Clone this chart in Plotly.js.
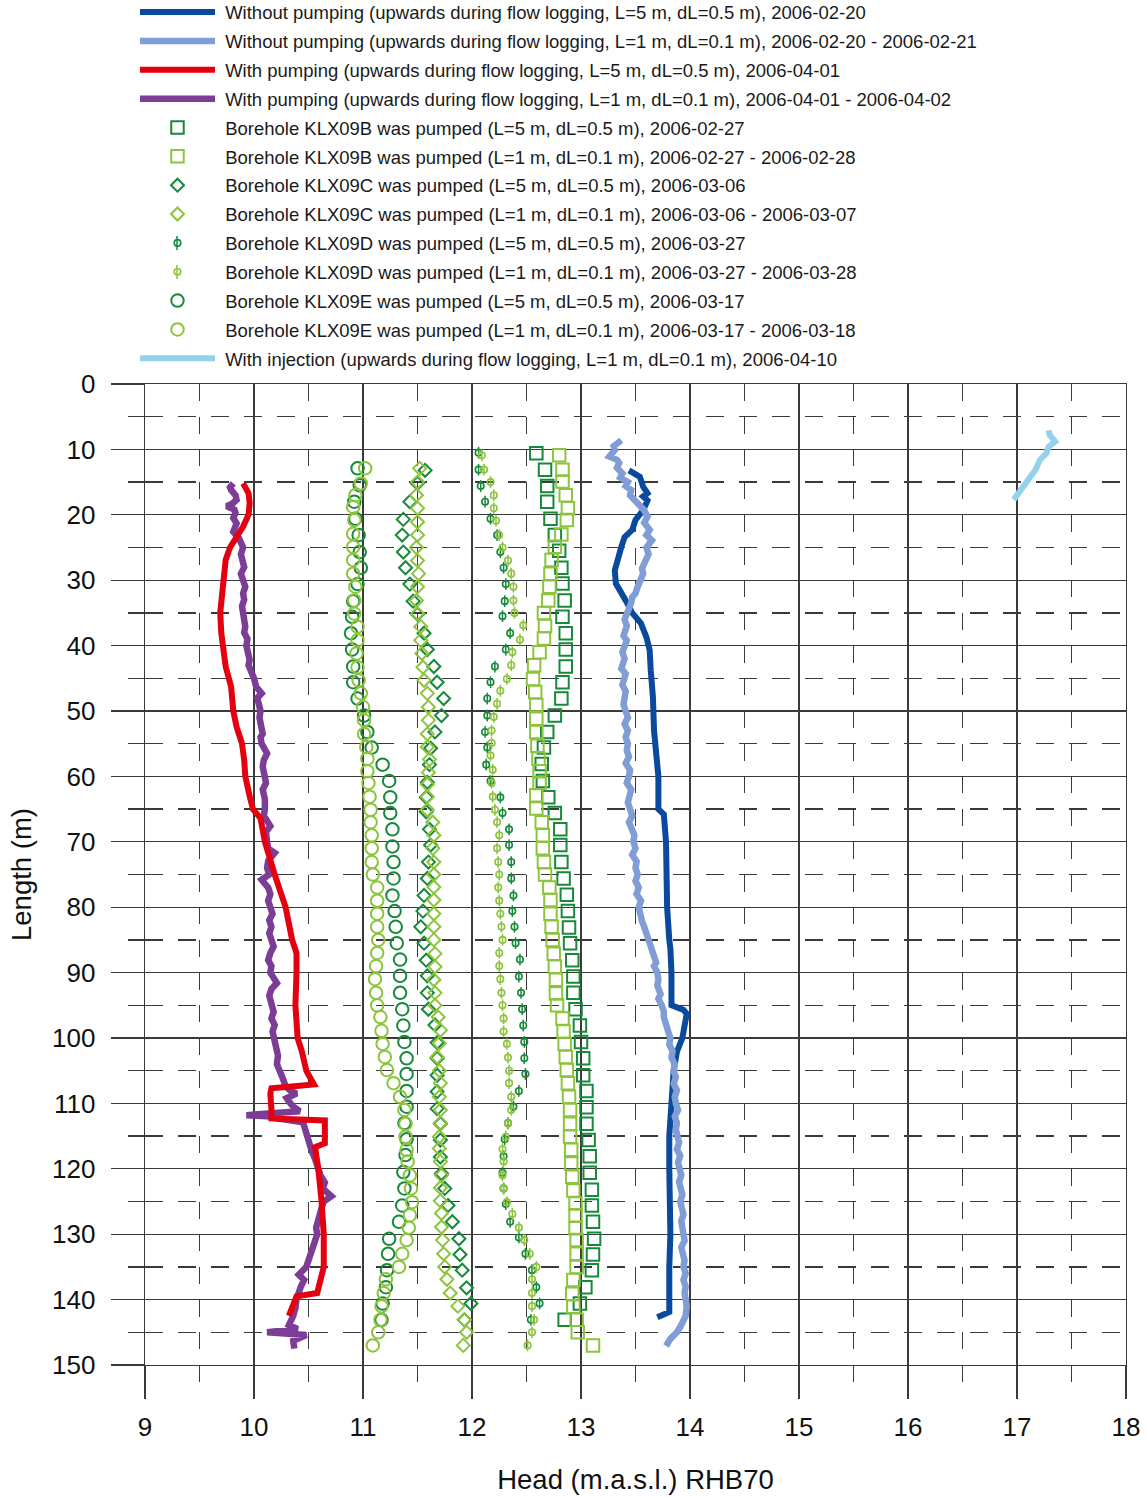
<!DOCTYPE html>
<html>
<head>
<meta charset="utf-8">
<script src="https://cdn.plot.ly/plotly-3.0.1.min.js"></script>
<style>body{margin:0;padding:0;background:#fff;} #chart{width:1147px;height:1497px;}</style>
</head>
<body>
<div id="chart"></div>
<script>
// ---------- Series names ----------
const seriesNames = [
  "Without pumping (upwards during flow logging, L=5 m, dL=0.5 m), 2006-02-20",
  "Without pumping (upwards during flow logging, L=1 m, dL=0.1 m), 2006-02-20 - 2006-02-21",
  "With pumping (upwards during flow logging, L=5 m, dL=0.5 m), 2006-04-01",
  "With pumping (upwards during flow logging, L=1 m, dL=0.1 m), 2006-04-01 - 2006-04-02",
  "Borehole KLX09B was pumped (L=5 m, dL=0.5 m), 2006-02-27",
  "Borehole KLX09B was pumped (L=1 m, dL=0.1 m), 2006-02-27 - 2006-02-28",
  "Borehole KLX09C was pumped (L=5 m, dL=0.5 m), 2006-03-06",
  "Borehole KLX09C was pumped (L=1 m, dL=0.1 m), 2006-03-06 - 2006-03-07",
  "Borehole KLX09D was pumped (L=5 m, dL=0.5 m), 2006-03-27",
  "Borehole KLX09D was pumped (L=1 m, dL=0.1 m), 2006-03-27 - 2006-03-28",
  "Borehole KLX09E was pumped (L=5 m, dL=0.5 m), 2006-03-17",
  "Borehole KLX09E was pumped (L=1 m, dL=0.1 m), 2006-03-17 - 2006-03-18",
  "With injection (upwards during flow logging, L=1 m, dL=0.1 m), 2006-04-10"
];

// ---------- Without pumping, L=5 m ----------
const noPump5Len  = [13.2,14.2,15.7,16.7,17.2,17.8,19.3,20.8,22.3,23.4,24.9,26.4,28.5,30.5,31.5,33.1,35.0,36.6,38.7,40.7,43.8,47.9,53.0,56.0,60.0,65.0,65.8,70.0,75.0,80.0,85.0,86.3,90.0,95.0,95.7,96.3,100.0,102.1,105.0,107.4,110.0,115.0,120.0,125.0,130.0,135.0,140.0,141.9,142.7];
const noPump5Head = [13.44,13.54,13.57,13.61,13.57,13.61,13.57,13.50,13.47,13.40,13.37,13.34,13.31,13.32,13.36,13.41,13.47,13.55,13.60,13.63,13.64,13.66,13.67,13.69,13.71,13.71,13.76,13.78,13.78,13.79,13.81,13.82,13.83,13.83,13.94,13.97,13.93,13.88,13.85,13.84,13.82,13.81,13.81,13.82,13.82,13.81,13.81,13.81,13.70];

// ---------- Without pumping, L=1 m ----------
const noPump1Len  = [8.6,9.0,9.5,10.1,10.6,11.1,11.6,12.1,12.8,13.7,14.3,15.0,15.6,16.2,17.0,17.8,18.5,19.3,20.3,21.2,22.3,23.1,23.9,24.5,25.0,26.0,27.4,28.2,29.0,30.0,31.0,32.0,32.6,33.5,34.2,35.0,36.0,37.0,37.7,38.5,39.2,40.0,41.0,42.0,42.8,43.5,44.3,45.0,46.0,47.0,47.9,49.0,50.0,51.0,52.0,53.0,54.0,55.0,56.0,57.0,58.0,59.0,60.0,61.0,62.0,63.0,64.0,65.0,66.0,67.0,68.0,69.0,70.0,71.0,72.0,73.0,74.0,75.0,76.0,77.0,78.0,79.0,80.0,81.0,82.2,83.0,84.0,85.0,86.0,87.0,87.5,88.5,89.0,90.0,91.0,92.0,93.3,94.0,95.0,96.0,96.8,98.0,99.0,100.0,101.0,102.0,103.0,104.0,105.0,106.0,107.0,108.0,109.0,110.0,111.0,112.0,113.0,114.0,115.0,116.0,117.0,118.0,119.0,120.0,121.0,122.0,123.0,124.0,125.0,126.0,127.0,128.0,129.0,130.0,131.0,132.0,133.0,134.0,135.0,136.0,137.0,138.0,139.0,140.0,141.0,142.5,143.3,144.2,145.0,146.0,147.1];
const noPump1Head = [13.37,13.33,13.30,13.31,13.29,13.26,13.33,13.35,13.33,13.38,13.36,13.43,13.41,13.46,13.45,13.50,13.53,13.58,13.61,13.58,13.63,13.60,13.65,13.62,13.60,13.62,13.58,13.56,13.57,13.54,13.52,13.50,13.47,13.46,13.44,13.43,13.40,13.42,13.41,13.39,13.42,13.40,13.38,13.40,13.38,13.37,13.41,13.40,13.38,13.41,13.40,13.39,13.41,13.43,13.40,13.43,13.41,13.43,13.42,13.44,13.41,13.45,13.44,13.42,13.46,13.44,13.43,13.45,13.47,13.44,13.46,13.49,13.48,13.50,13.47,13.51,13.50,13.52,13.50,13.53,13.51,13.55,13.53,13.54,13.56,13.58,13.60,13.62,13.64,13.66,13.68,13.69,13.67,13.70,13.71,13.70,13.73,13.71,13.74,13.76,13.76,13.79,13.80,13.82,13.81,13.84,13.83,13.86,13.85,13.87,13.85,13.88,13.86,13.87,13.89,13.86,13.88,13.87,13.88,13.90,13.88,13.91,13.89,13.90,13.92,13.90,13.91,13.93,13.91,13.92,13.94,13.92,13.93,13.93,13.95,13.92,13.94,13.95,13.94,13.96,13.94,13.96,13.95,13.96,13.97,13.96,13.94,13.91,13.88,13.82,13.78];

// ---------- With pumping, L=5 m ----------
const pump5Len  = [15.2,16.7,18.2,20.0,21.8,23.3,25.0,26.9,30.0,33.0,35.0,38.1,40.0,43.2,46.3,50.0,52.4,55.0,57.5,60.0,63.0,65.0,66.4,70.0,75.0,80.0,85.0,87.0,90.0,95.0,100.0,102.1,105.0,107.1,107.7,108.5,110.9,112.3,112.6,116.1,116.7,120.0,125.0,130.0,135.0,136.6,139.0,139.5,141.3,142.5];
const pump5Head = [9.90,9.95,9.96,9.95,9.90,9.84,9.78,9.74,9.72,9.69,9.69,9.70,9.72,9.74,9.79,9.81,9.84,9.89,9.91,9.92,9.96,9.99,10.06,10.10,10.19,10.29,10.35,10.39,10.39,10.38,10.40,10.44,10.48,10.55,10.16,10.15,10.16,10.16,10.65,10.65,10.56,10.59,10.62,10.64,10.64,10.62,10.58,10.39,10.35,10.32];

// ---------- With pumping, L=1 m ----------
const pump1Len  = [15.2,15.8,16.2,17.0,17.7,18.3,18.7,19.2,19.7,20.5,21.3,22.0,22.6,23.5,24.3,25.0,26.0,26.9,28.0,29.0,30.0,31.0,32.0,33.0,34.0,35.0,36.0,37.1,38.0,39.0,40.0,41.0,42.2,43.0,44.2,45.0,46.3,47.3,48.0,49.0,50.0,51.0,52.4,53.5,54.0,55.0,56.5,57.5,58.5,60.0,61.0,62.0,63.5,65.0,66.0,67.6,68.5,70.0,71.0,71.7,72.9,74.0,75.0,75.8,77.0,78.0,79.0,80.0,81.0,82.0,83.0,84.0,85.0,86.0,87.0,88.1,89.0,90.0,91.6,92.5,93.5,95.0,96.0,97.0,98.0,99.0,100.0,101.0,102.7,104.0,105.0,106.0,107.4,108.0,108.5,109.2,109.7,110.5,111.2,111.8,112.0,112.3,112.9,114.0,115.0,116.0,117.3,118.5,120.0,121.0,122.1,123.0,124.2,125.0,126.0,127.0,127.9,129.0,130.0,131.0,132.0,133.0,134.0,135.0,136.2,137.0,138.0,139.0,140.0,141.3,142.5,143.9,144.5,145.0,145.4,146.3,147.5];
const pump1Head = [9.81,9.78,9.79,9.83,9.84,9.80,9.75,9.82,9.83,9.81,9.84,9.82,9.81,9.86,9.89,9.90,9.88,9.89,9.91,9.88,9.90,9.92,9.90,9.91,9.89,9.90,9.92,9.92,9.91,9.94,9.93,9.95,9.96,9.95,9.99,10.00,10.02,10.07,10.03,10.05,10.06,10.05,10.06,10.08,10.06,10.07,10.12,10.09,10.08,10.09,10.11,10.08,10.10,10.10,10.09,10.15,10.11,10.12,10.13,10.19,10.13,10.12,10.14,10.07,10.13,10.15,10.13,10.15,10.17,10.14,10.16,10.14,10.16,10.18,10.15,10.13,10.16,10.15,10.21,10.16,10.14,10.16,10.18,10.16,10.19,10.17,10.18,10.20,10.22,10.21,10.24,10.26,10.29,10.33,10.39,10.30,10.32,10.36,10.42,9.93,10.15,10.21,10.45,10.47,10.48,10.50,10.53,10.56,10.59,10.61,10.65,10.63,10.71,10.64,10.62,10.60,10.59,10.57,10.58,10.56,10.55,10.53,10.51,10.48,10.41,10.46,10.43,10.41,10.39,10.38,10.36,10.32,10.40,10.12,10.48,10.36,10.37];

// ---------- KLX09B pumped ----------
const b5Len  = [10.6,13.1,15.6,18.0,20.6,23.1,25.5,28.1,30.5,33.1,35.6,38.1,40.6,43.2,45.6,48.1,50.7,53.2,55.6,58.1,60.7,63.2,65.6,68.1,70.5,73.1,75.6,78.1,80.6,83.1,85.5,88.1,90.6,93.1,95.6,98.1,100.6,103.1,105.7,108.1,110.6,113.1,115.6,118.1,120.6,123.2,125.6,128.1,130.7,133.1,135.5,138.1,140.6,143.1];
const b5Head = [12.59,12.67,12.69,12.69,12.72,12.76,12.80,12.82,12.83,12.85,12.83,12.86,12.86,12.86,12.83,12.82,12.76,12.69,12.66,12.64,12.65,12.70,12.76,12.81,12.81,12.82,12.84,12.87,12.88,12.89,12.90,12.92,12.93,12.93,12.95,12.99,13.00,13.02,13.02,13.05,13.05,13.05,13.07,13.08,13.08,13.10,13.10,13.11,13.12,13.11,13.10,13.04,12.99,12.85];
const b1Len  = [10.9,13.1,14.9,17.0,19.0,20.8,23.0,24.9,26.9,29.0,31.0,33.1,35.0,37.0,38.9,41.0,43.0,45.1,47.1,49.1,51.2,53.2,55.3,57.3,59.2,61.0,62.9,64.9,67.0,69.0,71.0,73.1,75.0,77.0,78.9,81.0,83.0,85.0,87.1,89.1,91.1,93.2,95.0,97.0,99.0,100.9,102.9,104.9,106.9,109.0,111.0,113.1,115.1,117.1,119.2,121.2,123.3,125.3,127.1,129.1,130.9,133.0,135.0,137.0,139.1,141.1,143.1,145.0,147.0];
const b1Head = [12.80,12.83,12.83,12.86,12.88,12.87,12.82,12.76,12.73,12.72,12.71,12.70,12.66,12.67,12.66,12.62,12.57,12.56,12.58,12.59,12.59,12.59,12.60,12.61,12.62,12.62,12.59,12.59,12.64,12.65,12.65,12.66,12.67,12.71,12.72,12.72,12.73,12.74,12.75,12.76,12.77,12.77,12.78,12.83,12.84,12.85,12.86,12.87,12.88,12.89,12.90,12.90,12.90,12.91,12.91,12.92,12.93,12.95,12.95,12.95,12.96,12.96,12.96,12.93,12.92,12.93,12.96,12.97,13.11];

// ---------- KLX09C pumped ----------
const c5Len  = [13.2,15.2,18.0,20.7,23.1,25.7,28.1,30.6,33.2,35.2,38.1,40.6,43.2,45.6,48.1,50.7,53.2,55.7,58.2,60.9,63.2,65.4,68.1,70.5,73.1,75.6,78.2,80.6,83.0,85.5,88.1,90.5,93.1,95.6,98.0,100.7,103.1,105.7,108.2,110.8,113.1,115.6,118.2,120.7,123.0,125.6,128.1,130.7,133.1,135.5,138.2,140.6,143.1];
const c5Head = [11.57,11.50,11.43,11.37,11.36,11.37,11.39,11.43,11.46,11.50,11.56,11.59,11.65,11.68,11.74,11.72,11.66,11.62,11.61,11.59,11.58,11.58,11.61,11.62,11.60,11.59,11.56,11.55,11.53,11.56,11.58,11.59,11.59,11.60,11.66,11.68,11.68,11.68,11.68,11.68,11.71,11.71,11.71,11.72,11.75,11.78,11.82,11.88,11.89,11.91,11.95,11.99,11.93];
const c1Len  = [12.9,15.0,17.0,19.0,21.1,23.1,25.0,27.0,29.0,31.0,33.1,35.1,37.1,39.2,41.2,43.3,45.3,47.3,49.4,51.4,53.5,55.5,57.4,59.4,61.2,63.1,65.1,67.0,69.0,71.0,73.1,75.0,76.9,78.9,81.0,83.0,85.0,87.1,89.1,91.1,93.1,95.0,96.8,98.8,100.8,102.9,105.0,106.9,109.0,111.0,113.0,115.1,116.9,118.9,121.0,122.9,124.9,126.8,128.9,130.9,133.0,135.0,136.9,139.0,141.0,143.1,145.0,147.0];
const c1Head = [11.52,11.50,11.49,11.50,11.50,11.50,11.49,11.50,11.51,11.50,11.49,11.50,11.53,11.53,11.54,11.55,11.56,11.59,11.60,11.60,11.59,11.59,11.61,11.60,11.59,11.59,11.59,11.64,11.65,11.64,11.65,11.65,11.65,11.65,11.65,11.65,11.65,11.66,11.66,11.65,11.66,11.66,11.69,11.71,11.70,11.68,11.70,11.71,11.70,11.71,11.71,11.70,11.70,11.71,11.72,11.71,11.71,11.72,11.72,11.73,11.74,11.75,11.77,11.80,11.87,11.93,11.95,11.92];

// ---------- KLX09D pumped ----------
const d5Len  = [10.5,13.1,15.6,18.0,20.6,23.1,25.7,28.1,30.6,33.2,35.5,38.1,40.6,43.2,45.6,48.1,50.7,53.2,55.6,58.2,60.7,63.2,65.6,68.1,70.5,73.1,75.6,78.2,80.6,83.0,85.5,88.0,90.6,93.1,95.6,98.1,100.6,103.1,105.5,108.1,110.5,113.0,115.5,118.1,120.6,123.0,125.4,128.1,130.5,133.0,135.5,138.1,140.6,143.1];
const d5Head = [12.06,12.06,12.08,12.12,12.17,12.23,12.26,12.29,12.31,12.30,12.28,12.35,12.31,12.21,12.17,12.14,12.14,12.12,12.14,12.13,12.17,12.26,12.28,12.34,12.34,12.36,12.36,12.38,12.37,12.39,12.40,12.44,12.43,12.45,12.46,12.47,12.48,12.48,12.49,12.43,12.38,12.33,12.30,12.29,12.28,12.29,12.31,12.35,12.43,12.49,12.55,12.59,12.62,12.54];
const d1Len  = [10.9,13.1,15.0,17.0,19.0,20.9,23.1,25.0,27.0,29.0,31.0,33.1,35.0,36.9,39.1,41.0,43.0,45.1,46.9,48.9,50.9,53.0,54.9,56.8,59.0,61.0,63.1,65.1,67.0,69.0,71.0,73.1,75.0,77.0,79.0,81.0,83.0,85.0,87.0,89.0,91.0,93.1,95.0,97.0,99.0,100.9,103.0,105.0,106.9,109.0,111.0,113.1,115.1,117.0,118.9,121.0,123.0,125.1,126.9,129.0,130.9,133.0,135.0,136.9,139.0,141.0,143.1,145.0,147.0];
const d1Head = [12.09,12.11,12.17,12.20,12.20,12.22,12.25,12.28,12.33,12.36,12.38,12.38,12.39,12.47,12.44,12.37,12.36,12.32,12.26,12.23,12.20,12.18,12.18,12.17,12.19,12.18,12.19,12.21,12.23,12.25,12.23,12.24,12.25,12.24,12.25,12.26,12.27,12.28,12.25,12.25,12.26,12.27,12.28,12.29,12.29,12.32,12.33,12.34,12.34,12.36,12.36,12.33,12.31,12.28,12.29,12.28,12.29,12.32,12.37,12.43,12.48,12.53,12.59,12.55,12.55,12.55,12.57,12.55,12.51];

// ---------- KLX09E pumped ----------
const e5Len  = [12.9,15.5,18.0,20.6,23.1,25.7,28.1,30.6,33.2,35.6,38.1,40.6,43.2,45.6,48.1,50.7,53.2,55.6,58.2,60.7,63.2,65.6,68.1,70.7,73.1,75.6,78.2,80.6,83.0,85.5,88.0,90.5,93.1,95.6,98.1,100.6,103.1,105.5,108.1,110.5,113.0,115.5,117.9,120.5,123.0,125.6,128.1,130.7,133.0,135.5,138.1,140.6,143.1];
const e5Head = [10.95,10.97,10.92,10.93,10.96,10.97,10.98,10.95,10.91,10.90,10.89,10.90,10.91,10.91,10.95,11.01,11.04,11.08,11.18,11.24,11.25,11.25,11.27,11.27,11.28,11.28,11.27,11.29,11.30,11.31,11.34,11.34,11.34,11.36,11.37,11.38,11.40,11.40,11.40,11.40,11.38,11.40,11.39,11.37,11.38,11.36,11.33,11.24,11.23,11.22,11.21,11.18,11.17];
const e1Len  = [12.9,15.2,17.0,18.8,20.8,22.9,24.9,26.9,29.0,31.0,33.1,35.1,37.1,39.2,41.2,43.3,45.3,47.3,49.4,51.4,53.5,55.5,57.3,59.2,61.0,63.1,65.1,67.0,69.0,71.0,73.1,75.0,77.0,79.0,81.0,83.0,85.0,87.0,89.0,91.0,93.1,95.0,96.8,98.9,100.9,102.9,104.9,106.9,109.0,111.0,113.1,115.1,117.1,118.9,121.0,123.0,125.1,127.1,129.0,130.9,133.0,135.0,136.9,139.0,141.0,143.1,145.0,147.0];
const e1Head = [11.02,10.98,10.93,10.91,10.92,10.91,10.91,10.91,10.91,10.93,10.92,10.92,10.95,10.95,10.94,10.95,10.96,10.98,11.00,11.01,11.01,11.03,11.04,11.04,11.05,11.06,11.07,11.07,11.08,11.08,11.08,11.09,11.13,11.13,11.13,11.13,11.14,11.13,11.12,11.11,11.12,11.13,11.16,11.17,11.18,11.20,11.22,11.28,11.34,11.38,11.39,11.39,11.40,11.41,11.43,11.44,11.45,11.43,11.42,11.40,11.36,11.33,11.21,11.19,11.17,11.16,11.14,11.09];

// ---------- With injection ----------
const injLen  = [7.1,7.8,8.8,9.6,10.6,11.6,13.1,14.2,15.7,16.9,17.7];
const injHead = [17.29,17.30,17.35,17.29,17.27,17.21,17.17,17.12,17.05,17.00,16.97];

// ---------- Axis ticks ----------
const xTickVals = [9,10,11,12,13,14,15,16,17,18];
const yTickVals = [0,10,20,30,40,50,60,70,80,90,100,110,120,130,140,150];

// ---------- Styles ----------
const C = {
  dblue:'#0a4a9e', lblue:'#809dd6', red:'#e5000f', purple:'#7b3d96',
  dgreen:'#17893a', lgreen:'#8cc43e', cyan:'#92d2ea'
};
const NB = '\u00a0';

function lineTrace(i, x, y, color, width, rank){
  return {x:x, y:y, type:'scatter', mode:'lines', name:NB+seriesNames[i],
    line:{color:color, width:width}, legendgroup:'g'+i, legendrank:rank};
}
function markTrace(i, x, y, color, symbol, size, lw, rank, err){
  const t = {x:x, y:y, type:'scatter', mode:'markers', name:NB+seriesNames[i],
    marker:{symbol:symbol, size:size, color:color, line:{color:color, width:lw}},
    legendgroup:'g'+i, legendrank:rank};
  if(err){ t.error_y = {type:'constant', value:0.9, color:color, thickness:1.5, width:0}; }
  return t;
}

const traces = [
  markTrace(4, b5Head, b5Len, C.dgreen, 'square-open', 12.5, 2, 5),
  markTrace(5, b1Head, b1Len, C.lgreen, 'square-open', 12.5, 2, 6),
  markTrace(6, c5Head, c5Len, C.dgreen, 'diamond-open', 10, 2, 7),
  markTrace(7, c1Head, c1Len, C.lgreen, 'diamond-open', 10, 2, 8),
  markTrace(8, d5Head, d5Len, C.dgreen, 'circle-open', 6.5, 1.6, 9, true),
  markTrace(9, d1Head, d1Len, C.lgreen, 'circle-open', 6.5, 1.6, 10, true),
  markTrace(10, e5Head, e5Len, C.dgreen, 'circle-open', 12.5, 2, 11),
  markTrace(11, e1Head, e1Len, C.lgreen, 'circle-open', 12.5, 2, 12),
  lineTrace(0, noPump5Head, noPump5Len, C.dblue, 6, 1),
  lineTrace(1, noPump1Head, noPump1Len, C.lblue, 6.5, 2),
  lineTrace(3, pump1Head, pump1Len, C.purple, 6.5, 4),
  lineTrace(2, pump5Head, pump5Len, C.red, 6, 3),
  lineTrace(12, injHead, injLen, C.cyan, 6, 13)
];

// vertical bar through the legend symbols of the KLX09D entries (legend decoration)
const plotH = 981, plotB = 1365, plotL = 145;
function pxX(px){ return (px - plotL) / plotH; }
function pxY(py){ return (plotB - py) / plotH; }
const legendBars = [[243, C.dgreen], [272, C.lgreen]].map(function(b){
  return {type:'line', xref:'paper', yref:'paper', x0:pxX(177), x1:pxX(177),
    y0:pxY(b[0]-7), y1:pxY(b[0]+7), line:{color:b[1], width:1.5}};
});

const gridC = '#3a3a3a';
const layout = {
  width:1147, height:1497,
  margin:{l:145, r:21, t:384, b:132, autoexpand:false},
  paper_bgcolor:'#ffffff', plot_bgcolor:'#ffffff',
  font:{family:'"Liberation Sans", Arial, sans-serif', color:'#1a1a1a'},
  showlegend:true,
  legend:{x:-0.0102, y:1.398, xanchor:'left', yanchor:'top', bgcolor:'rgba(0,0,0,0)',
    font:{size:18.5, color:'#1a1a1a'}, itemwidth:75, tracegroupgap:1.8, traceorder:'grouped'},
  shapes:legendBars,
  xaxis:{range:[9,18], tickmode:'array', tickvals:xTickVals, ticktext:xTickVals.map(String),
    showgrid:true, gridcolor:gridC, gridwidth:1.3, zeroline:false,
    showline:true, mirror:true, linecolor:gridC, linewidth:1.3,
    ticks:'outside', ticklen:33, tickcolor:gridC, tickwidth:1.3,
    tickfont:{size:26, color:'#111'}, ticklabelstandoff:5,
    minor:{dtick:0.5, tick0:9, showgrid:true, gridcolor:gridC, gridwidth:1.3, griddash:'17px,15.7px',
      ticks:'outside', ticklen:16, tickcolor:gridC, tickwidth:1.3},
    title:{text:'Head (m.a.s.l.) RHB70', font:{size:27.5, color:'#111'}, standoff:29}},
  yaxis:{range:[150,0], tickmode:'array', tickvals:yTickVals, ticktext:yTickVals.map(String),
    showgrid:true, gridcolor:gridC, gridwidth:1.3, zeroline:false,
    showline:true, mirror:true, linecolor:gridC, linewidth:1.3,
    ticks:'outside', ticklen:33, tickcolor:gridC, tickwidth:1.3,
    tickfont:{size:26, color:'#111'}, ticklabelstandoff:10,
    minor:{dtick:5, tick0:0, showgrid:true, gridcolor:gridC, gridwidth:1.3, griddash:'18px,15px',
      ticks:'outside', ticklen:16, tickcolor:gridC, tickwidth:1.3},
    title:{text:'Length (m)', font:{size:27.5, color:'#111'}, standoff:12}}
};

Plotly.newPlot('chart', traces, layout, {displayModeBar:false, staticPlot:true});
</script>
</body>
</html>
